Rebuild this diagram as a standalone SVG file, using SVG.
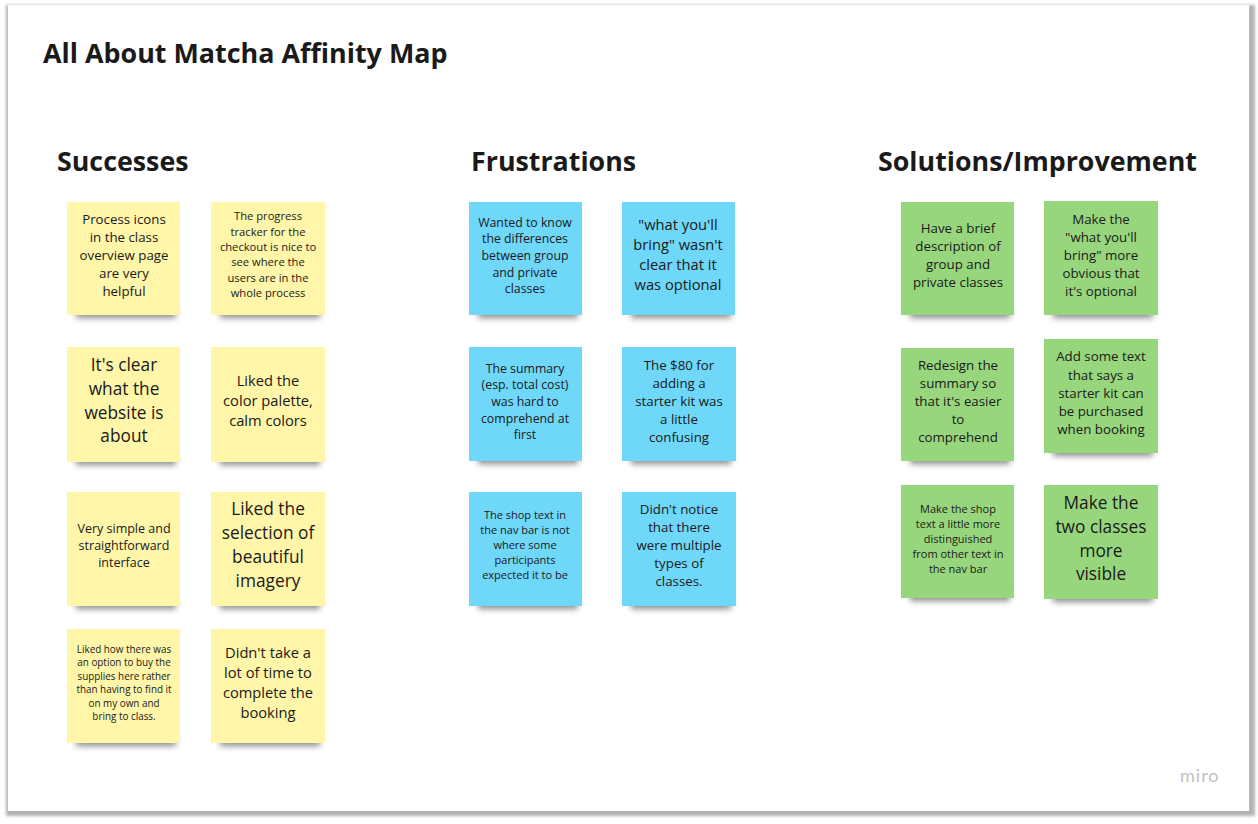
<svg xmlns="http://www.w3.org/2000/svg" width="1258" height="824" viewBox="0 0 1258 824">
<defs>
<filter id="frameShadow" x="-5%" y="-5%" width="110%" height="110%"><feGaussianBlur stdDeviation="1.6"/></filter>
<filter id="noteShadow" x="-20%" y="-100%" width="140%" height="300%"><feGaussianBlur stdDeviation="3.2"/></filter>
<style>
.h{font-family:"Open Sans","Liberation Sans",sans-serif;font-weight:700;fill:#1a1a1a}
.t{font-family:"Open Sans","Liberation Sans",sans-serif;fill:#1a1a1a;text-anchor:middle}
.y{fill:#fff6a9}
.b{fill:#6fd7f8}
.g{fill:#97d67c}
.sh{fill:#000;opacity:0.45;filter:url(#noteShadow)}
</style>
</defs>
<rect x="0" y="0" width="1258" height="824" fill="#ffffff"/>
<g id="frame">
<rect x="6" y="5" width="1249" height="811" fill="#b4b4b4" filter="url(#frameShadow)"/>
<rect x="8" y="5" width="1241" height="806" fill="#ffffff"/>
</g>
<text class="h" x="43" y="63" font-size="26.9">All About Matcha Affinity Map</text>
<g id="successes">
<text class="h" x="57" y="171" font-size="26.8">Successes</text>
<g id="s1"><rect class="sh" x="76" y="306" width="100" height="12"/><rect class="y" x="67" y="202" width="113" height="113"/>
<text class="t" font-size="13.3" x="124"><tspan x="124" y="224">Process icons</tspan><tspan x="124" y="242">in the class</tspan><tspan x="124" y="260">overview page</tspan><tspan x="124" y="278">are very</tspan><tspan x="124" y="296">helpful</tspan></text></g>
<g id="s2"><rect class="sh" x="220" y="306" width="100" height="12"/><rect class="y" x="211" y="202" width="114" height="113"/>
<text class="t" font-size="11.2" x="268"><tspan x="268" y="220">The progress</tspan><tspan x="268" y="235.5">tracker for the</tspan><tspan x="268" y="251">checkout is nice to</tspan><tspan x="268" y="266">see where the</tspan><tspan x="268" y="281.5">users are in the</tspan><tspan x="268" y="297">whole process</tspan></text></g>
<g id="s3"><rect class="sh" x="76" y="453" width="100" height="12"/><rect class="y" x="67" y="347" width="113" height="115"/>
<text class="t" font-size="17.3" x="124"><tspan x="124" y="371">It's clear</tspan><tspan x="124" y="395">what the</tspan><tspan x="124" y="418.5">website is</tspan><tspan x="124" y="442">about</tspan></text></g>
<g id="s4"><rect class="sh" x="220" y="453" width="100" height="12"/><rect class="y" x="211" y="347" width="114" height="115"/>
<text class="t" font-size="14.7" x="268"><tspan x="268" y="386">Liked the</tspan><tspan x="268" y="406">color palette,</tspan><tspan x="268" y="426">calm colors</tspan></text></g>
<g id="s5"><rect class="sh" x="76" y="597" width="100" height="12"/><rect class="y" x="67" y="492" width="113" height="114"/>
<text class="t" font-size="12.5" x="124"><tspan x="124" y="532.5">Very simple and</tspan><tspan x="124" y="549.5">straightforward</tspan><tspan x="124" y="566.5">interface</tspan></text></g>
<g id="s6"><rect class="sh" x="220" y="597" width="100" height="12"/><rect class="y" x="211" y="492" width="114" height="114"/>
<text class="t" font-size="17.3" x="268"><tspan x="268" y="515">Liked the</tspan><tspan x="268" y="539">selection of</tspan><tspan x="268" y="563">beautiful</tspan><tspan x="268" y="587">imagery</tspan></text></g>
<g id="s7"><rect class="sh" x="76" y="734" width="100" height="12"/><rect class="y" x="67" y="629" width="113" height="114"/>
<text class="t" font-size="9.9" x="124"><tspan x="124" y="652.5">Liked how there was</tspan><tspan x="124" y="666">an option to buy the</tspan><tspan x="124" y="679.5">supplies here rather</tspan><tspan x="124" y="693">than having to find it</tspan><tspan x="124" y="706.5">on my own and</tspan><tspan x="124" y="720">bring to class.</tspan></text></g>
<g id="s8"><rect class="sh" x="220" y="734" width="100" height="12"/><rect class="y" x="211" y="629" width="114" height="114"/>
<text class="t" font-size="14.7" x="268"><tspan x="268" y="658">Didn't take a</tspan><tspan x="268" y="678">lot of time to</tspan><tspan x="268" y="698">complete the</tspan><tspan x="268" y="718">booking</tspan></text></g>
</g>
<g id="frustrations">
<text class="h" x="471" y="171" font-size="26.8">Frustrations</text>
<g id="f1"><rect class="sh" x="478" y="306" width="100" height="12"/><rect class="b" x="469" y="202" width="113" height="113"/>
<text class="t" font-size="12.3" x="525"><tspan x="525" y="226.5">Wanted to know</tspan><tspan x="525" y="243">the differences</tspan><tspan x="525" y="260">between group</tspan><tspan x="525" y="276.5">and private</tspan><tspan x="525" y="293">classes</tspan></text></g>
<g id="f2"><rect class="sh" x="631" y="306" width="100" height="12"/><rect class="b" x="622" y="202" width="113" height="113"/>
<text class="t" font-size="14.7" x="678"><tspan x="678" y="230">"what you'll</tspan><tspan x="678" y="250">bring" wasn't</tspan><tspan x="678" y="270">clear that it</tspan><tspan x="678" y="290">was optional</tspan></text></g>
<g id="f3"><rect class="sh" x="478" y="452" width="100" height="12"/><rect class="b" x="469" y="347" width="113" height="114"/>
<text class="t" font-size="12.3" x="525"><tspan x="525" y="372.5">The summary</tspan><tspan x="525" y="389">(esp. total cost)</tspan><tspan x="525" y="405.5">was hard to</tspan><tspan x="525" y="422.5">comprehend at</tspan><tspan x="525" y="439">first</tspan></text></g>
<g id="f4"><rect class="sh" x="631" y="452" width="100" height="12"/><rect class="b" x="622" y="347" width="114" height="114"/>
<text class="t" font-size="13.3" x="679"><tspan x="679" y="370">The $80 for</tspan><tspan x="679" y="388">adding a</tspan><tspan x="679" y="406">starter kit was</tspan><tspan x="679" y="424">a little</tspan><tspan x="679" y="442">confusing</tspan></text></g>
<g id="f5"><rect class="sh" x="478" y="597" width="100" height="12"/><rect class="b" x="469" y="492" width="113" height="114"/>
<text class="t" font-size="11" x="525"><tspan x="525" y="519">The shop text in</tspan><tspan x="525" y="534">the nav bar is not</tspan><tspan x="525" y="549">where some</tspan><tspan x="525" y="564">participants</tspan><tspan x="525" y="579">expected it to be</tspan></text></g>
<g id="f6"><rect class="sh" x="631" y="597" width="100" height="12"/><rect class="b" x="622" y="492" width="114" height="114"/>
<text class="t" font-size="13.3" x="679"><tspan x="679" y="514">Didn't notice</tspan><tspan x="679" y="532">that there</tspan><tspan x="679" y="550">were multiple</tspan><tspan x="679" y="568">types of</tspan><tspan x="679" y="586">classes.</tspan></text></g>
</g>
<g id="solutions">
<text class="h" x="878" y="171" font-size="26.8">Solutions/Improvement</text>
<g id="p1"><rect class="sh" x="910" y="306" width="100" height="12"/><rect class="g" x="901" y="202" width="113" height="113"/>
<text class="t" font-size="13.3" x="958"><tspan x="958" y="233">Have a brief</tspan><tspan x="958" y="251">description of</tspan><tspan x="958" y="269">group and</tspan><tspan x="958" y="287">private classes</tspan></text></g>
<g id="p2"><rect class="sh" x="1053" y="306" width="100" height="12"/><rect class="g" x="1044" y="201" width="114" height="114"/>
<text class="t" font-size="13.3" x="1101"><tspan x="1101" y="224">Make the</tspan><tspan x="1101" y="242">"what you'll</tspan><tspan x="1101" y="260">bring" more</tspan><tspan x="1101" y="278">obvious that</tspan><tspan x="1101" y="296">it's optional</tspan></text></g>
<g id="p3"><rect class="sh" x="910" y="452" width="100" height="12"/><rect class="g" x="901" y="348" width="113" height="113"/>
<text class="t" font-size="13.3" x="958"><tspan x="958" y="370">Redesign the</tspan><tspan x="958" y="388">summary so</tspan><tspan x="958" y="406">that it's easier</tspan><tspan x="958" y="424">to</tspan><tspan x="958" y="442">comprehend</tspan></text></g>
<g id="p4"><rect class="sh" x="1053" y="444" width="100" height="12"/><rect class="g" x="1044" y="339" width="114" height="114"/>
<text class="t" font-size="13.3" x="1101"><tspan x="1101" y="361">Add some text</tspan><tspan x="1101" y="379.5">that says a</tspan><tspan x="1101" y="397.5">starter kit can</tspan><tspan x="1101" y="415.5">be purchased</tspan><tspan x="1101" y="434">when booking</tspan></text></g>
<g id="p5"><rect class="sh" x="910" y="589" width="100" height="12"/><rect class="g" x="901" y="485" width="113" height="113"/>
<text class="t" font-size="11" x="958"><tspan x="958" y="513">Make the shop</tspan><tspan x="958" y="528">text a little  more</tspan><tspan x="958" y="543">distinguished</tspan><tspan x="958" y="558">from other text in</tspan><tspan x="958" y="573">the nav bar</tspan></text></g>
<g id="p6"><rect class="sh" x="1053" y="590" width="100" height="12"/><rect class="g" x="1044" y="485" width="114" height="114"/>
<text class="t" font-size="17.3" x="1101"><tspan x="1101" y="509">Make the</tspan><tspan x="1101" y="533">two classes</tspan><tspan x="1101" y="556.5">more</tspan><tspan x="1101" y="580">visible</tspan></text></g>
</g>
<text x="1180" y="782" font-family="Lato,'Open Sans',sans-serif" font-size="18" letter-spacing="1" fill="#bfbfc8">miro</text>
</svg>
